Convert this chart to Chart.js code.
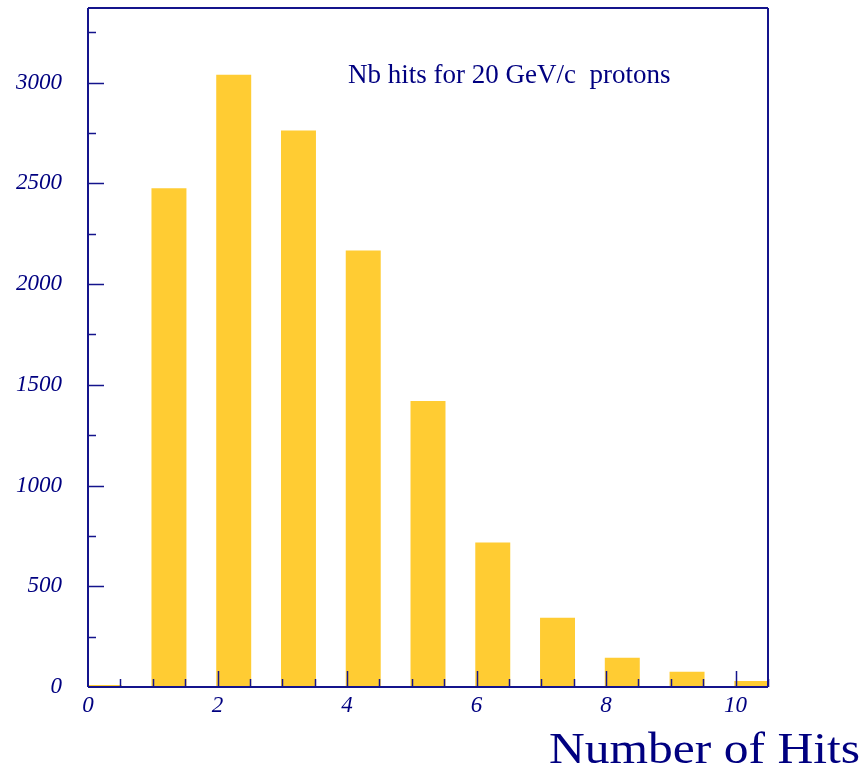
<!DOCTYPE html>
<html>
<head>
<meta charset="utf-8">
<script src="https://cdn.jsdelivr.net/npm/chart.js@4.4.1/dist/chart.umd.min.js"></script>
<style>
  html, body { margin: 0; padding: 0; background: #fff; }
  canvas { display: block; }
</style>
</head>
<body>
<canvas id="chart" width="866" height="770"></canvas>
<script>
// histogram: number of hits per event (bins start at integer values)
const binStarts = [0, 1, 2, 3, 4, 5, 6, 7, 8, 9, 10];
const counts = [10, 2475, 3039, 2762, 2167, 1419, 717, 344, 145, 76, 30];
const binWidth = 0.5;

const xTickValues = [0, 2, 4, 6, 8, 10];
const yTickValues = [0, 500, 1000, 1500, 2000, 2500, 3000];

const titleText = 'Nb hits for 20 GeV/c  protons';
const xTitle = 'Number of Hits';

const navy = '#14148c';
const textColor = '#000080';
const tickFont = { family: 'Liberation Serif', style: 'italic', size: 23 };

// frame, inward ticks and the two texts, ROOT style
const frameAndTicks = {
  id: 'frameAndTicks',
  afterDraw(chart) {
    const { ctx, chartArea: a, scales: { x, y } } = chart;
    ctx.save();
    ctx.strokeStyle = navy;
    ctx.lineWidth = 2;
    ctx.beginPath();
    ctx.moveTo(a.left, a.top); ctx.lineTo(a.right, a.top);
    ctx.moveTo(a.right, a.top); ctx.lineTo(a.right, a.bottom);
    ctx.moveTo(a.left, a.bottom); ctx.lineTo(a.right, a.bottom);
    ctx.moveTo(a.left, a.top); ctx.lineTo(a.left, a.bottom);
    ctx.stroke();

    ctx.lineWidth = 1.5;
    ctx.beginPath();
    for (let v = 250; v <= y.max; v += 250) {
      const py = Math.round(y.getPixelForValue(v)) + 0.5;
      const len = v % 500 === 0 ? 16 : 8;
      ctx.moveTo(a.left, py); ctx.lineTo(a.left + len, py);
    }
    for (let v = 0.5; v <= x.max; v += 0.5) {
      const px = Math.round(x.getPixelForValue(v)) + 0.5;
      const len = v % 2 === 0 ? 16 : 8;
      ctx.moveTo(px, a.bottom); ctx.lineTo(px, a.bottom - len);
    }
    ctx.stroke();

    ctx.fillStyle = textColor;
    ctx.textBaseline = 'alphabetic';
    ctx.textAlign = 'left';
    ctx.font = '27px "Liberation Serif"';
    ctx.fillText(titleText, 348, 83);

    ctx.font = '44px "Liberation Serif"';
    const w = ctx.measureText(xTitle).width;
    const target = 311;
    ctx.translate(860 - target, 763);
    ctx.scale(target / w, 1);
    ctx.fillText(xTitle, 0, 0);
    ctx.restore();
  }
};

new Chart(document.getElementById('chart').getContext('2d'), {
  type: 'bar',
  data: {
    datasets: [{
      data: binStarts.map((b, i) => ({ x: b + binWidth / 2, y: counts[i] })),
      backgroundColor: '#ffcc33',
      borderWidth: 0,
      categoryPercentage: 1.0,
      barPercentage: 0.54
    }]
  },
  options: {
    responsive: false,
    animation: false,
    devicePixelRatio: 1,
    layout: { padding: { top: 8, right: 98, bottom: 0, left: 0 } },
    plugins: {
      legend: { display: false },
      tooltip: { enabled: false }
    },
    scales: {
      x: {
        type: 'linear',
        min: 0,
        max: 10.5,
        offset: false,
        grid: { display: false, drawTicks: false },
        border: { display: false },
        afterBuildTicks(scale) { scale.ticks = xTickValues.map(v => ({ value: v })); },
        ticks: {
          maxRotation: 0,
          autoSkip: false,
          padding: 5,
          color: textColor,
          font: tickFont,
          callback: v => String(v)
        },
        afterFit(scale) {
          scale.height = 83;
          scale.paddingLeft = 0; scale.paddingRight = 0;
        }
      },
      y: {
        min: 0,
        max: 3370,
        grid: { display: false, drawTicks: false },
        border: { display: false },
        afterBuildTicks(scale) { scale.ticks = yTickValues.map(v => ({ value: v })); },
        ticks: {
          autoSkip: false,
          padding: 26,
          color: textColor,
          font: tickFont,
          callback: v => String(v)
        },
        afterFit(scale) {
          scale.width = 88;
          scale.paddingTop = 0; scale.paddingBottom = 0;
        }
      }
    }
  },
  plugins: [frameAndTicks]
});
</script>
</body>
</html>
